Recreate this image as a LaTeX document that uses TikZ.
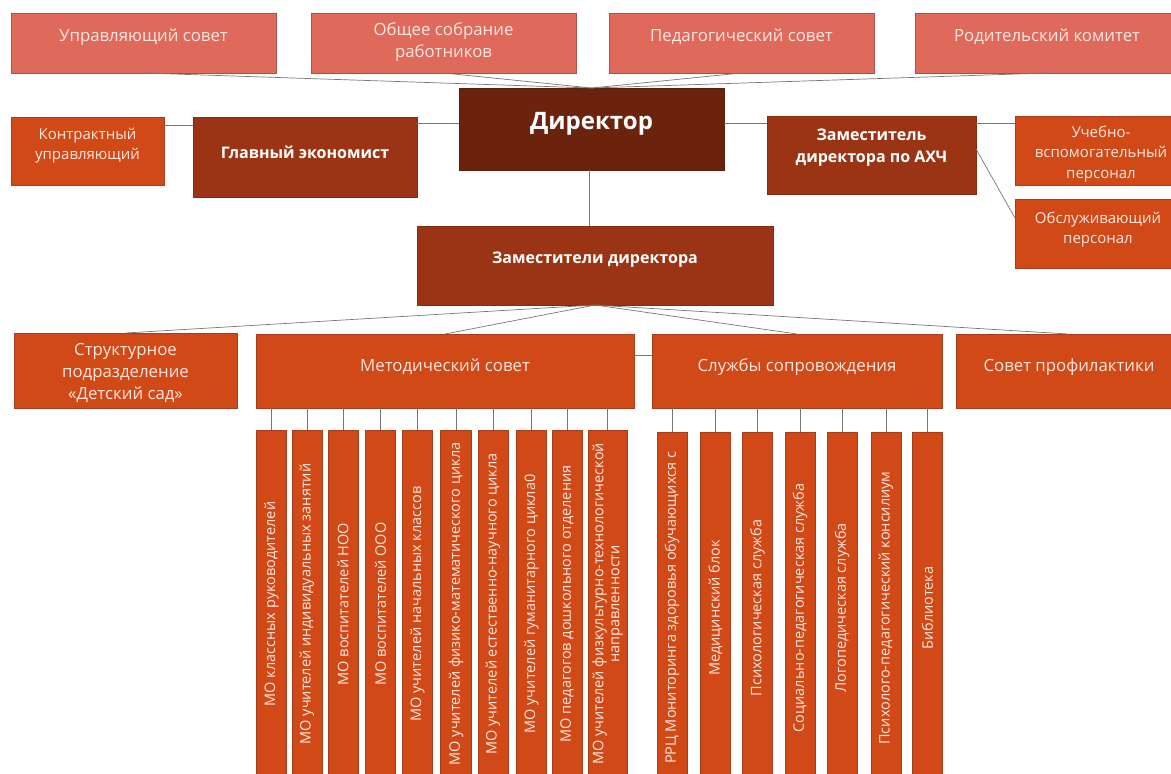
\documentclass[tikz,border=0pt]{standalone}
\usepackage{fontspec}
\setmainfont{Open Sans}
\usetikzlibrary{calc}
\definecolor{topc}{RGB}{223,106,92}
\definecolor{topd}{RGB}{168,82,72}
\definecolor{dirc}{RGB}{107,35,14}
\definecolor{midc}{RGB}{155,52,20}
\definecolor{orc}{RGB}{209,73,22}
\definecolor{ord}{RGB}{165,62,28}
\definecolor{lnc}{RGB}{118,118,118}
\definecolor{ltxt}{RGB}{252,232,225}
\begin{document}
\begin{tikzpicture}[x=1pt,y=-1pt,
  every node/.style={inner sep=0pt, outer sep=0pt},
  tbox/.style={rectangle, fill=topc, draw=topd, line width=0.6pt},
  dbox/.style={rectangle, fill=dirc, draw=dirc!85!black, line width=0.6pt},
  mbox/.style={rectangle, fill=midc, draw=midc!85!black, line width=0.6pt},
  obox/.style={rectangle, fill=orc, draw=ord, line width=0.6pt},
  ltext/.style={text=ltxt, align=center, font=\fontsize{16.8}{22}\selectfont},
  stext/.style={text=ltxt, align=center, font=\fontsize{15}{20}\selectfont},
  btext/.style={text=white, align=center, font=\bfseries\fontsize{16}{22}\selectfont},
  bartext/.style={text=ltxt, align=center, rotate=90, font=\fontsize{14.5}{16}\selectfont},
  conn/.style={draw=lnc, line width=0.7pt}]
\useasboundingbox (0,0) rectangle (1171,774);

% top row
\node[tbox, minimum width=265pt, minimum height=60pt] (upr) at (143.5,43) {};
\node[tbox, minimum width=265pt, minimum height=60pt] (obs) at (443.5,43) {};
\node[tbox, minimum width=265pt, minimum height=60pt] (ped) at (741.5,43) {};
\node[tbox, minimum width=265pt, minimum height=60pt] (rod) at (1047.5,43) {};
\node[ltext] (uprt) at (143.5,37) {Управляющий совет};
\node[ltext] (obst) at (443.5,42) {Общее собрание\\работников};
\node[ltext] (pedt) at (741.5,37) {Педагогический совет};
\node[ltext] (rodt) at (1047,37) {Родительский комитет};

% director level
\node[dbox, minimum width=265pt, minimum height=82pt] (dir) at (591.5,129) {};
\node[text=white, font=\bfseries\fontsize{24}{28}\selectfont] (dirt) at (591.5,124) {Директор};
\node[obox, minimum width=153pt, minimum height=68pt] (kon) at (87.5,151) {};
\node[stext] (kont) at (87.5,146) {Контрактный\\управляющий};
\node[mbox, minimum width=224pt, minimum height=80pt] (gla) at (305,157) {};
\node[btext] (glat) at (305,152) {Главный экономист};
\node[mbox, minimum width=209pt, minimum height=78pt] (zax) at (871.5,155) {};
\node[btext] (zaxt) at (871.5,148) {Заместитель\\директора по АХЧ};
\node[obox, minimum width=165pt, minimum height=69pt] (uch) at (1097.5,150.5) {};
\node[stext, font=\fontsize{15}{20.5}\selectfont] (ucht) at (1101,154) {Учебно-\\вспомогательный\\персонал};
\node[obox, minimum width=165pt, minimum height=69pt] (obl) at (1097.5,233.5) {};
\node[stext] (oblt) at (1098,230) {Обслуживающий\\персонал};

% deputies
\node[mbox, minimum width=356pt, minimum height=79pt] (zam) at (595,265.5) {};
\node[btext] (zamt) at (595,260) {Заместители директора};

% middle row
\node[obox, minimum width=223pt, minimum height=75pt] (str) at (125.5,370.5) {};
\node[ltext] (strt) at (125.5,373) {Структурное\\подразделение\\«Детский сад»};
\node[obox, minimum width=378pt, minimum height=74pt] (met) at (445,371) {};
\node[ltext] (mett) at (445,367) {Методический совет};
\node[obox, minimum width=290pt, minimum height=74pt] (slu) at (797,371) {};
\node[ltext] (slut) at (797,367) {Службы сопровождения};
\node[obox, minimum width=224pt, minimum height=74pt] (sov) at (1068,371) {};
\node[ltext] (sovt) at (1069,367) {Совет профилактики};

% connectors top
\draw[conn] (upr.south) -- (dir.north);
\draw[conn] (obs.south) -- (dir.north);
\draw[conn] (ped.south) -- (dir.north);
\draw[conn] (rod.south) -- (dir.north);
\draw[conn] ([yshift=-8pt]kon.north east) -- ([yshift=-8pt]gla.north west);
\draw[conn] ([yshift=-6pt]gla.north east) coordinate (g1) -- (g1 -| dir.west);
\draw[conn] ([yshift=-7pt]zax.north west) coordinate (z1) -- (z1 -| dir.east);
\draw[conn] ([yshift=-7pt]zax.north east) coordinate (z2) -- (z2 -| uch.west);
\draw[conn] ([yshift=-33pt]zax.north east) -- ([yshift=-19pt]obl.north west);
\draw[conn] ([xshift=-2pt]dir.south) coordinate (d1) -- (d1 |- zam.north);
\draw[conn] (zam.south) -- (str.north);
\draw[conn] (zam.south) -- (met.north);
\draw[conn] (zam.south) -- (slu.north);
\draw[conn] (zam.south) -- (sov.north);
\draw[conn] ([yshift=-21pt]met.north east) coordinate (m0) -- (m0 -| slu.west);

% methodical bars
\foreach \n/\cx/\w/\t in {
  1/271.5/30/{МО классных руководителей},
  2/307/30/{МО учителей индивидуальных занятий},
  3/343/30/{МО воспитателей НОО},
  4/380.5/30/{МО воспитателей ООО},
  5/417.5/30/{МО учителей начальных классов},
  6/456/31/{МО учителей физико-математического цикла},
  7/493/30/{МО учителей естественно-научного цикла},
  8/531.5/30/{МО учителей гуманитарного цикла0},
  9/567/30/{МО педагогов дошкольного отделения},
  10/607.5/39/{МО учителей физкультурно-технологической\\направленности}}{
  \node[obox, minimum width=\w pt, minimum height=346pt, anchor=north] (mb\n) at (\cx,430) {};
  \node[bartext] (mbt\n) at (\cx,604) {\t};
  \draw[conn] (mb\n.north) -- (mb\n.north |- met.south);
}

% service bars
\foreach \n/\cx/\t in {
  1/672/{РРЦ Мониторинга здоровья обучающихся с},
  2/715.5/{Медицинский блок},
  3/757.5/{Психологическая служба},
  4/800/{Социально-педагогическая служба},
  5/842/{Логопедическая служба},
  6/886/{Психолого-педагогический консилиум},
  7/927.5/{Библиотека}}{
  \node[obox, minimum width=30pt, minimum height=344pt, anchor=north] (sb\n) at (\cx,432) {};
  \node[bartext] (sbt\n) at (\cx,608) {\t};
  \draw[conn] (sb\n.north) -- (sb\n.north |- slu.south);
}
\end{tikzpicture}
\end{document}
